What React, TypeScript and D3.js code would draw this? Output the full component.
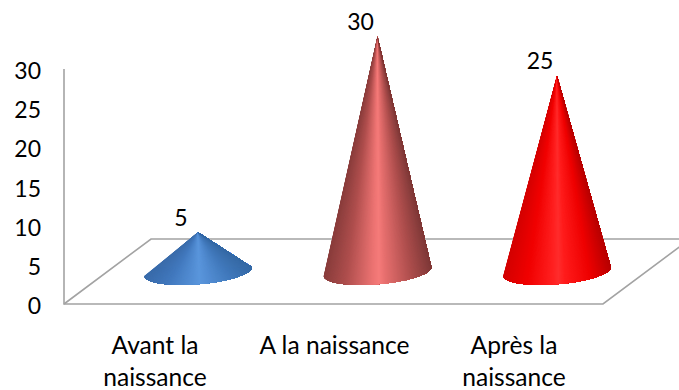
import React from "react";
import * as d3 from "d3";

const categories = [["Avant la", "naissance"], ["A la naissance"], ["Après la", "naissance"]];
const values = [5, 30, 25];
const yTicks = [0, 5, 10, 15, 20, 25, 30];
const shadeStops = [-1, -0.6, -0.12, 0, 0.12, 0.6, 1];
const ramps = [
  ["#3a6cab", "#4178bd", "#5590d6", "#5a96dc", "#5590d6", "#4078bb", "#366aa6"],
  ["#8a3d3c", "#b04f4e", "#ec7372", "#f57b7a", "#e66f6e", "#ae4e4d", "#7f3938"],
  ["#d40000", "#f00000", "#ff2020", "#ff2c2c", "#ff1c1c", "#ee0000", "#b80000"],
];

const FONT = "Lato, Carlito, Calibri, sans-serif";
const AXIS = "#a3a3a3";

// Floor parallelogram and axis scales
const x0 = 64;
const xFrontEnd = 603;
const yBottom = 304;
const yTop = 69;
const yBack = 239;
const depth = 87;

const y = d3.scaleLinear().domain([0, 30]).range([yBottom, yTop]);
const band = d3.scalePoint<number>().domain([0, 1, 2]).range([198, 557]);
const heightOf = (v: number) => y(0) - y(v);

const RX = 54;
const RY = 12.7;
const TILT = (-4.8 * Math.PI) / 180;
const BASE_Y = 271.5;

// Each wedge runs from the apex across the rest of the base rim and is painted
// over by the next one, so only one soft edge shows between neighbouring shades.
function Cone({ index, value }: { index: number; value: number }) {
  const cx = band(index)!;
  const apexY = BASE_Y - heightOf(value);
  const shade = d3.scaleLinear<string>().domain(shadeStops).range(ramps[index]);
  const angles = d3.range(0, 161).map((i) => Math.PI - (i / 160) * Math.PI);
  const rim = angles.map((a) => {
    const ex = RX * Math.cos(a);
    const ey = RY * Math.sin(a);
    return {
      u: Math.cos(a),
      pt: [
        cx + ex * Math.cos(TILT) - ey * Math.sin(TILT),
        BASE_Y + ex * Math.sin(TILT) + ey * Math.cos(TILT),
      ] as [number, number],
    };
  });
  const line = d3.line();
  return (
    <g>
      {rim.slice(0, -1).map((p, i) => (
        <path
          key={i}
          d={line([[cx, apexY], ...rim.slice(i).map((r) => r.pt)])! + "Z"}
          fill={shade(p.u)}
        />
      ))}
    </g>
  );
}

export default function App() {
  const labelX = (i: number) => band(i)! - 17;
  return (
    <svg
      width={679}
      height={390}
      style={{ position: "absolute", left: 0, top: 0, background: "#fff" }}
      fontFamily={FONT}
      fill="#000"
    >
      <g fill="none" stroke={AXIS} strokeWidth={1.6}>
        <path d={`M${x0},${yTop}V${yBottom}H${xFrontEnd}L${xFrontEnd + depth},${yBack}`} />
        <path d={`M${x0},${yBottom}L${x0 + depth},${yBack}H679`} />
      </g>
      {yTicks.map((t) => (
        <text key={t} x={41} y={y(t)} dy={10} textAnchor="end" fontSize={23}>
          {t}
        </text>
      ))}
      {values.map((v, i) => (
        <Cone key={i} index={i} value={v} />
      ))}
      {values.map((v, i) => (
        <text key={i} x={labelX(i)} y={BASE_Y - heightOf(v) - 6.5} textAnchor="middle" fontSize={23}>
          {v}
        </text>
      ))}
      {categories.map((lines, i) =>
        lines.map((s, j) => (
          <text key={j} x={band(i)! - 43} y={354 + j * 32} textAnchor="middle" fontSize={24.6}>
            {s}
          </text>
        ))
      )}
    </svg>
  );
}
